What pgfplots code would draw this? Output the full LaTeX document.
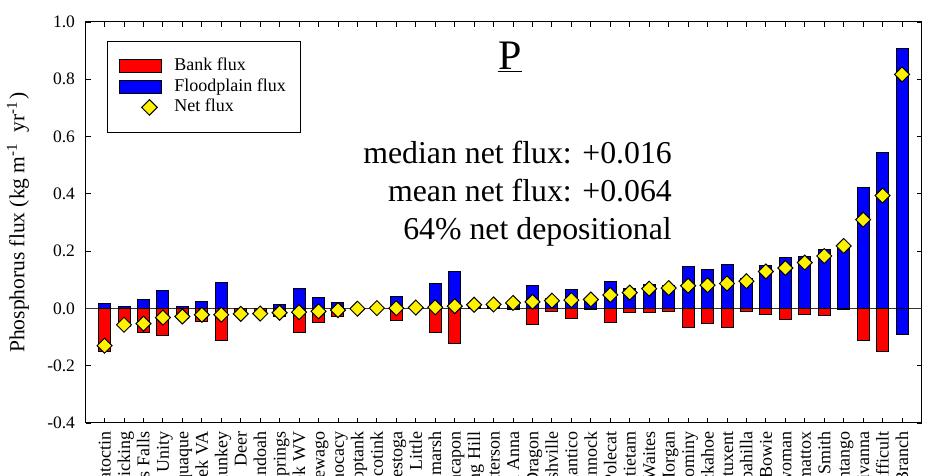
\documentclass[border=0pt]{standalone}
\usepackage{fontspec}
\setmainfont{Liberation Serif}
\usepackage{pgfplots}
\pgfplotsset{compat=1.18}
\usepackage{pgfplotstable}
\usetikzlibrary{shapes.geometric}

% bank (negative), floodplain (positive) and net phosphorus flux per site
\pgfplotstableread{
idx bank flood net
1  -0.149 0.018 -0.130
2  -0.063 0.006 -0.057
3  -0.083 0.030 -0.053
4  -0.094 0.062 -0.032
5  -0.034 0.006 -0.028
6  -0.045 0.023 -0.022
7  -0.113 0.091 -0.022
8  -0.020 0.001 -0.019
9  -0.019 0.001 -0.018
10 -0.029 0.014 -0.015
11 -0.084 0.071 -0.013
12 -0.049 0.039 -0.010
13 -0.028 0.022 -0.006
14 -0.004 0.003 -0.001
15 -0.004 0.005 0.001
16 -0.042 0.043 0.001
17 -0.001 0.004 0.003
18 -0.083 0.087 0.004
19 -0.121 0.129 0.008
20 -0.001 0.014 0.013
21 -0.001 0.015 0.014
22 -0.004 0.023 0.019
23 -0.056 0.079 0.023
24 -0.009 0.036 0.027
25 -0.036 0.065 0.029
26 -0.004 0.035 0.031
27 -0.048 0.095 0.047
28 -0.014 0.069 0.055
29 -0.014 0.083 0.069
30 -0.010 0.081 0.071
31 -0.067 0.146 0.079
32 -0.054 0.135 0.081
33 -0.065 0.152 0.087
34 -0.009 0.104 0.095
35 -0.021 0.150 0.129
36 -0.038 0.179 0.141
37 -0.022 0.182 0.160
38 -0.024 0.207 0.183
39 -0.004 0.222 0.218
40 -0.112 0.422 0.310
41 -0.150 0.544 0.394
42 -0.091 0.908 0.817
}\fluxdata

\newcommand{\fs}[1]{\fontsize{#1}{1.2\dimexpr#1\relax}\selectfont}

\pgfplotsset{
  banklegend/.style={legend image code/.code={\draw[fill=red, draw=black, line width=1pt] (0pt,-6.5pt) rectangle (42pt,6.5pt);}},
  floodlegend/.style={legend image code/.code={\draw[fill=blue, draw=black, line width=1pt] (0pt,-6.5pt) rectangle (42pt,6.5pt);}},
  netlegend/.style={legend image code/.code={\path[draw=none, fill=none] (0pt,-6.5pt) rectangle (42pt,6.5pt); \node[diamond, draw=black, fill=yellow, line width=1pt, minimum width=14pt, minimum height=14pt, inner sep=0pt] at (21pt,0pt) {};}},
}

\begin{document}
\begin{tikzpicture}
\useasboundingbox (0,0) rectangle (932pt,476pt);
\clip (0,0) rectangle (932pt,476pt);
\begin{axis}[
  at={(85.7pt,53pt)}, anchor=south west,
  scale only axis, width=835.8pt, height=401pt,
  xmin=0.03, xmax=43, ymin=-0.4, ymax=1.0,
  axis line style={black, line width=1pt},
  tick align=inside, major tick length=5pt,
  tick style={black, line width=0.9pt},
  xtick={1,...,42},
  xticklabels={Catoctin, Licking, Swallows Falls, Unity, Maquaque, Cedar Creek VA,
    Pamunkey, Deer, Shenandoah, Berkeley Springs, Back Creek WV, Conewago, Monocacy,
    Choptank, Accotink, Conestoga, Little, Tidal marsh, Cacapon, Spring Hill, Patterson,
    North Anna, Dragon, Nashville, Quantico, Rappahannock, Polecat, Antietam, Waites,
    Morgan, Chickahominy, Tuckahoe, Patuxent, Quittapahilla, Bowie, Mattawoman,
    Appomattox, Smith, Mahantango, Rivanna, Difficult, Paint Branch},
  xticklabel style={rotate=90, anchor=east, inner sep=0pt, font=\fs{18pt},
    text height=12pt, text depth=0pt},
  xticklabel shift=8.7pt,
  ytick={-0.4,-0.2,0,0.2,0.4,0.6,0.8,1.0},
  yticklabel style={font=\fs{17.5pt}, inner sep=0pt,
    /pgf/number format/.cd, fixed, fixed zerofill, precision=1, assume math mode=true},
  yticklabel shift=10.5pt,
  ylabel={Phosphorus flux (kg m\textsuperscript{-1}\hspace{0.25em} yr\textsuperscript{-1}\hspace{0.1em})},
  ylabel style={at={(axis description cs:-0.081,0.5)}, anchor=center, font=\fs{21.5pt}},
  legend style={at={(rel axis cs:0.0255,0.9526)}, anchor=north west,
    draw=black, line width=0.9pt, fill=white,
    inner xsep=12pt, inner ysep=15pt, row sep=0.5pt, column sep=10pt,
    font=\fs{18pt},
    nodes={inner sep=2pt, text height=12.5pt, text depth=3.5pt}},
  legend cell align=left,
]
% zero reference line
\addplot[forget plot, black!80, line width=1pt] coordinates {(0.03,0) (43,0)};

\addplot[ybar, bar width=12pt, bar shift=0pt, fill=red, draw=black, line width=1pt,
  restrict x to domain=1:41, banklegend]
  table[x=idx, y=bank] {\fluxdata};
\addlegendentry{Bank flux}

\addplot[ybar, bar width=12pt, bar shift=0pt, fill=blue, draw=black, line width=1pt, floodlegend]
  table[x=idx, y=flood] {\fluxdata};
\addlegendentry{Floodplain flux}

% bank flux of the last site, shaded like its floodplain bar
\addplot[forget plot, ybar, bar width=12pt, bar shift=0pt, fill=blue, draw=black, line width=1pt]
  coordinates {(42,-0.091)};

\addplot[only marks, mark=square*, mark size=5.3pt,
  mark options={rotate=45, fill=yellow, draw=black, line width=1pt}, netlegend]
  table[x=idx, y=net] {\fluxdata};
\addlegendentry{Net flux}
\end{axis}

% title and summary text
\node[font=\fs{42pt}, anchor=base] at (510pt,476pt-70pt) {\underline{P}};
\node[font=\fs{31.8pt}, anchor=base east, inner sep=0pt] at (672pt,476pt-163.5pt) {median net flux: +0.016};
\node[font=\fs{31.8pt}, anchor=base east, inner sep=0pt] at (672pt,476pt-201.7pt) {mean net flux: +0.064};
\node[font=\fs{31.8pt}, anchor=base east, inner sep=0pt] at (672pt,476pt-240pt) {64\% net depositional};
\end{tikzpicture}
\end{document}
